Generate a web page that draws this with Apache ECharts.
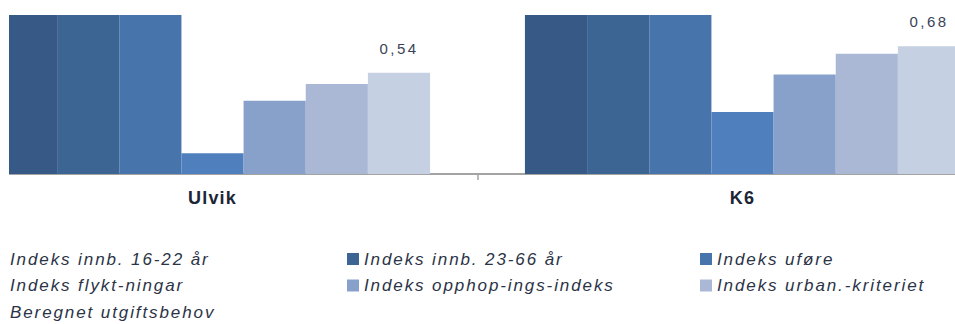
<!DOCTYPE html>
<html>
<head>
<meta charset="utf-8">
<script src="https://cdn.jsdelivr.net/npm/echarts@6/dist/echarts.min.js"></script>
<style>
  html, body { margin: 0; padding: 0; background: #fff; width: 955px; height: 324px; overflow: hidden; }
  #frame { position: absolute; left: 9px; top: 0; width: 946px; height: 324px; overflow: hidden; }
  #chart { position: absolute; left: -69px; top: 0; width: 1100px; height: 324px; }
  /* wide, airy type spacing */
  #chart svg text[style*="italic"] { letter-spacing: 1.9px; }
  #chart svg text[style*="bold"] { letter-spacing: 1.2px; }
  #chart svg text[style*="15px"] { letter-spacing: 2.5px; }
</style>
</head>
<body>
<div id="frame"><div id="chart"></div></div>
<script>
// Categories
const categories = ['Ulvik', 'K6'];

// Series names
const seriesNames = [
  'Indeks innb. 16-22 år',
  'Indeks innb. 23-66 år',
  'Indeks uføre',
  'Indeks flykt-ningar',
  'Indeks opphop-ings-indeks',
  'Indeks urban.-kriteriet',
  'Beregnet utgiftsbehov'
];

// Values per series (Ulvik, K6)
const innb1622 = [1.04, 1.01];
const innb2366 = [1.00, 1.00];
const ufore = [1.10, 1.02];
const flyktningar = [0.11, 0.33];
const opphoping = [0.39, 0.53];
const urban = [0.48, 0.64];
const utgiftsbehov = [0.54, 0.68];

const seriesValues = [innb1622, innb2366, ufore, flyktningar, opphoping, urban, utgiftsbehov];
const seriesColors = ['#365985', '#3d6594', '#4774ab', '#4f80bd', '#87a1cb', '#aab8d6', '#c5d0e2'];

const chart = echarts.init(document.getElementById('chart'), null, { renderer: 'svg' });

const legendBase = {
  orient: 'vertical',
  top: 250.5,
  bottom: 0,
  padding: 0,
  itemGap: 9.5,
  itemWidth: 12,
  itemHeight: 12,
  icon: 'rect',
  selectedMode: false,
  textStyle: {
    fontFamily: 'Liberation Sans',
    fontStyle: 'italic',
    fontSize: 17,
    color: '#2b3346'
  }
};

const series = seriesNames.map((name, i) => ({
  name: name,
  type: 'bar',
  data: seriesValues[i],
  barGap: '0%',
  barCategoryGap: '17.9%',
  itemStyle: { color: seriesColors[i] },
  label: i === seriesNames.length - 1 ? {
    show: true,
    position: 'top',
    distance: 17,
    fontFamily: 'Liberation Sans',
    fontSize: 15,
    color: '#3a4456',
    formatter: p => p.value.toFixed(2).replace('.', ',')
  } : { show: false }
}));

chart.setOption({
  animation: false,
  backgroundColor: '#fff',
  grid: { left: 7.5, width: 1060, top: 15, bottom: 150 },
  legend: [
    Object.assign({}, legendBase, { left: 53, data: [seriesNames[0], seriesNames[3], seriesNames[6]] }),
    Object.assign({}, legendBase, { left: 407, data: [seriesNames[1], seriesNames[4]] }),
    Object.assign({}, legendBase, { left: 760, data: [seriesNames[2], seriesNames[5]] })
  ],
  xAxis: {
    type: 'category',
    data: categories,
    axisLine: { show: true, lineStyle: { color: '#a3a3a3', width: 2 } },
    axisTick: { show: true, alignWithLabel: false, length: 6, lineStyle: { color: '#a3a3a3', width: 1.5 } },
    axisLabel: {
      fontFamily: 'Liberation Sans',
      fontWeight: 'bold',
      fontSize: 18,
      color: '#1c2536',
      margin: 15
    }
  },
  yAxis: { type: 'value', min: 0, max: 0.847, show: false },
  series: series
});
</script>
</body>
</html>
